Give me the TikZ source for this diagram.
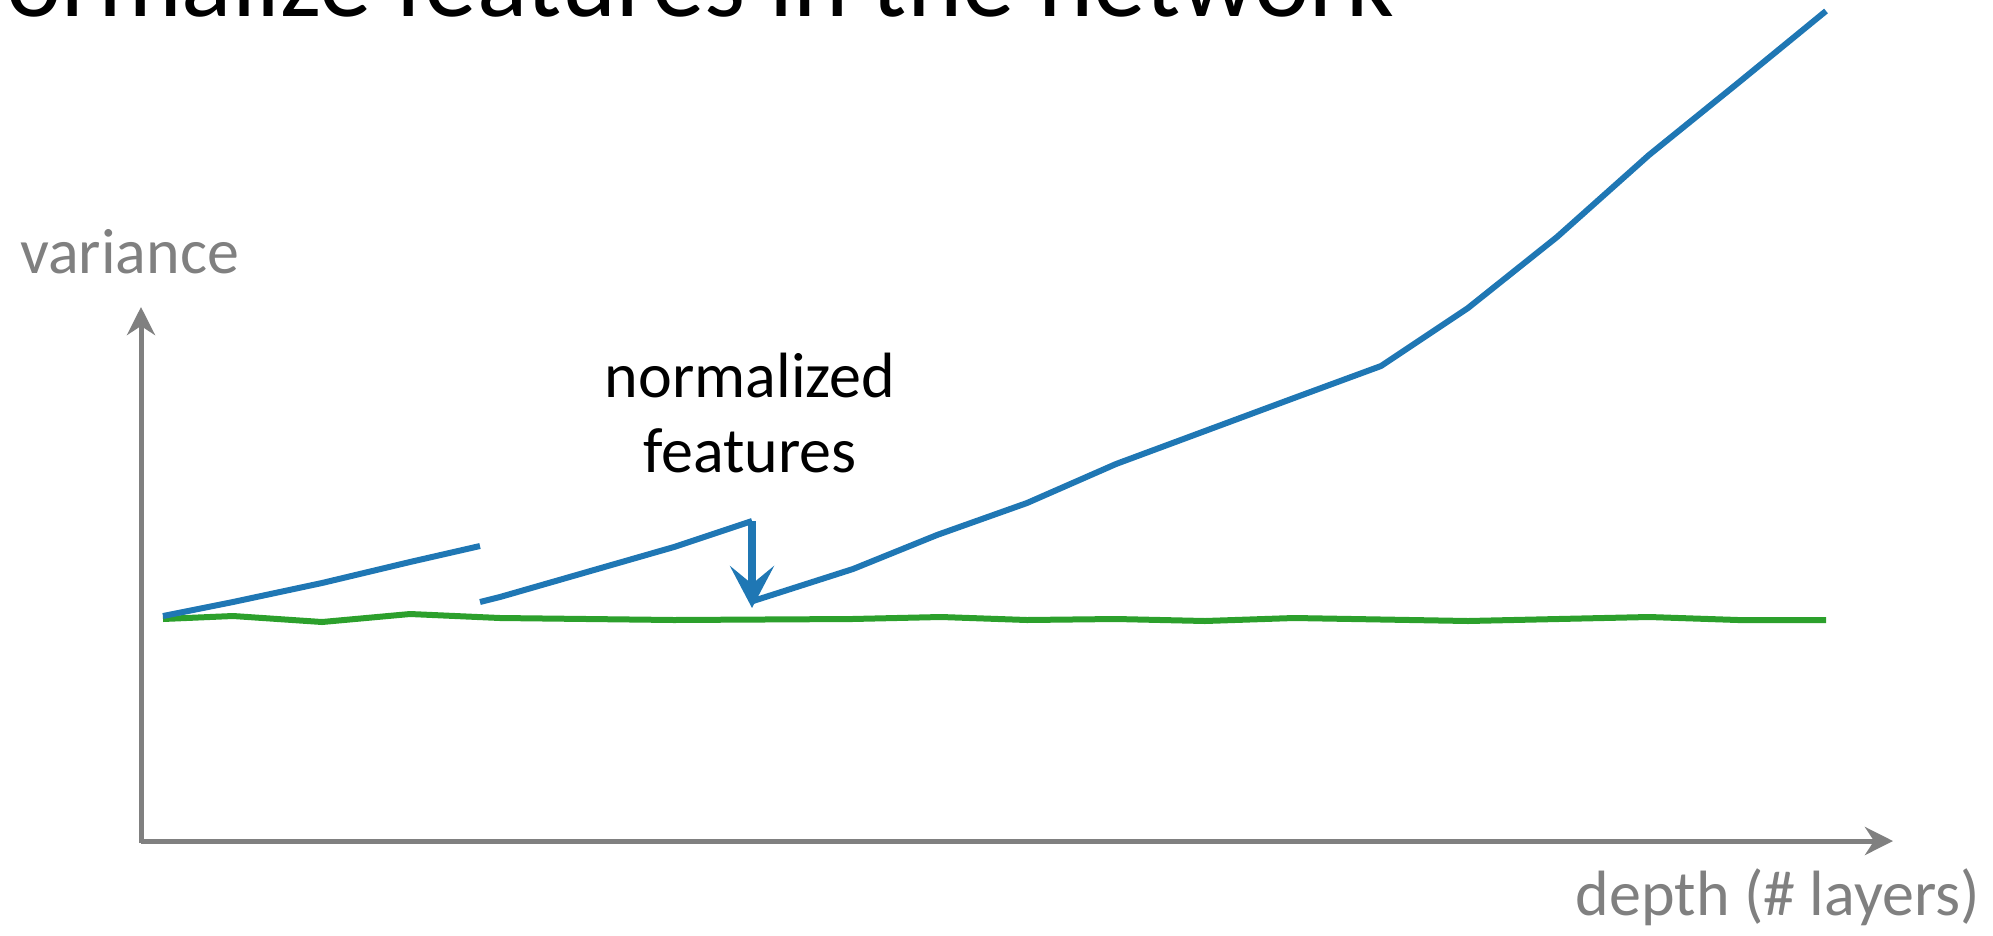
\documentclass[tikz,border=0pt]{standalone}
\usepackage{fontspec}
\setmainfont{Carlito}
\usetikzlibrary{arrows.meta}
\definecolor{axisgray}{HTML}{808080}
\definecolor{tabblue}{HTML}{1F77B4}
\definecolor{tabgreen}{HTML}{2CA02C}
\begin{document}
\begin{tikzpicture}[x=1pt,y=-1pt,
  axisline/.style={draw=axisgray,line width=5pt,-{Stealth[length=28pt,width=28pt,inset=9pt]}},
  series/.style={line width=6pt,line join=round},
  bigarrow/.style={draw=tabblue,line width=8pt,-{Stealth[length=42pt,width=44pt,inset=18pt]}},
  axislabel/.style={text=axisgray,font=\fontsize{64}{77}\selectfont,inner sep=0pt},
  notelabel/.style={text=black,font=\fontsize{64}{75}\selectfont,inner sep=0pt,align=center},
  titlelabel/.style={text=black,font=\fontsize{105}{120}\selectfont,inner sep=0pt}]
\useasboundingbox (0,0) rectangle (1993,935);
\begin{scope}
\clip (0,0) rectangle (1993,935);
% title (cut off at the top)
\node[titlelabel,anchor=base west] (title) at (-62,16) {Normalize features in the network};
% axes
\coordinate (origin) at (141,841);
\coordinate (ytip) at (141,307);
\coordinate (xtip) at (1893,841);
\coordinate (ybot) at (141,843);
\draw[axisline] (ybot) -- (ytip);
\draw[axisline] (origin) -- (xtip);
\node[axislabel,anchor=base west] (ylab) at (20,273) {variance};
\node[axislabel,anchor=base east] (xlab) at (1980,915) {depth (\# layers)};
% green series
\draw[series,tabgreen] plot coordinates {(163,619) (233,616) (322,622) (410,614) (500,618) (674,620) (852,619) (941,617) (1027,620) (1116,619) (1205,621) (1294,618) (1468,621) (1649,617) (1738,620) (1826,620)};
% blue series
\draw[series,tabblue] plot coordinates {(163,616) (233,602) (322,583) (410,562) (480,546)};
\coordinate (atop) at (752,521);
\coordinate (atip) at (752,608);
\draw[series,tabblue] plot coordinates {(480,602) (500,597) (674,547) (752,521)};
\draw[bigarrow] (atop) -- (atip);
\draw[series,tabblue] plot coordinates {(753,601) (853,569) (937,535) (1027,503) (1116,464) (1205,431) (1294,398) (1381,366) (1468,308) (1557,237) (1649,155) (1738,83) (1826,11)};
% annotation
\node[notelabel,anchor=base] (note) at (750,472) {normalized\\features};
\end{scope}
\end{tikzpicture}
\end{document}
